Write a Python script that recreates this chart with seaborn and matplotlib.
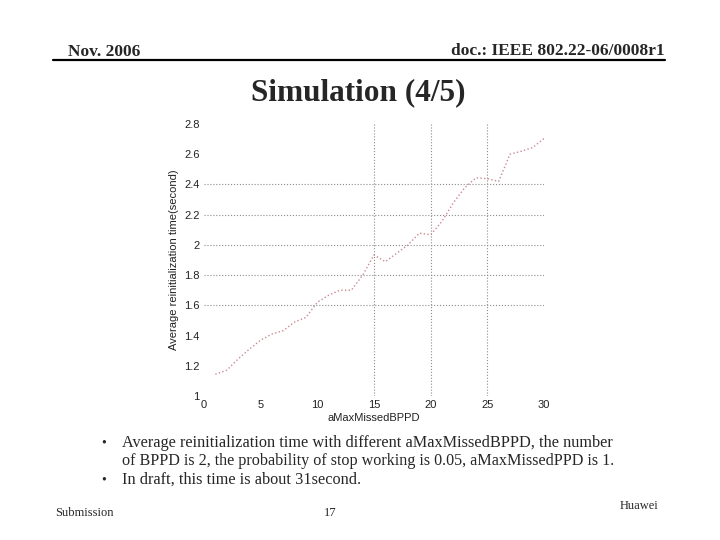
import matplotlib
matplotlib.use("Agg")
import matplotlib.pyplot as plt
import seaborn as sns
import pandas as pd

# ---- data ----
max_missed_bppd = list(range(1, 31))
avg_reinit_time = [1.144, 1.17, 1.244, 1.31, 1.37, 1.41, 1.433, 1.49, 1.52, 1.62,
                   1.667, 1.70, 1.70, 1.80, 1.933, 1.889, 1.944, 2.0, 2.078, 2.067,
                   2.156, 2.278, 2.378, 2.444, 2.438, 2.42, 2.6, 2.62, 2.644, 2.704]
x_ticks = [0, 5, 10, 15, 20, 25, 30]
y_ticks = [1, 1.2, 1.4, 1.6, 1.8, 2, 2.2, 2.4, 2.6, 2.8]
y_tick_labels = ["1", "1.2", "1.4", "1.6", "1.8", "2", "2.2", "2.4", "2.6", "2.8"]
h_grid = [1.6, 1.8, 2.0, 2.2, 2.4]
v_grid = [15, 20, 25]

header_left = "Nov. 2006"
header_right = "doc.: IEEE 802.22-06/0008r1"
slide_title = "Simulation (4/5)"
bullet_1 = ["Average reinitialization time with different aMaxMissedBPPD, the number",
            "of BPPD is 2, the probability of stop working is 0.05, aMaxMissedPPD is 1."]
bullet_2 = "In draft, this time is about 31second."
footer_left = "Submission"
footer_mid = "17"
footer_right = "Huawei"

df = pd.DataFrame({"x": max_missed_bppd, "y": avg_reinit_time})

sns.set_style("white")
plt.rcParams["font.family"] = ["Liberation Sans", "DejaVu Sans"]

W, H = 720, 540
fig = plt.figure(figsize=(7.2, 5.4), dpi=100)
fig.patch.set_facecolor("white")

ax = fig.add_axes([204 / W, 1 - 396 / H, 340 / W, 272 / H])
ax.set_facecolor("white")
sns.lineplot(data=df, x="x", y="y", ax=ax, color="#c98a92", linestyle=":",
             linewidth=1.0)
for yv in h_grid:
    ax.axhline(yv, color="#8c8c8c", linestyle=":", linewidth=0.8, zorder=0)
for xv in v_grid:
    ax.axvline(xv, color="#8c8c8c", linestyle=":", linewidth=0.8, zorder=0)

ax.set_xlim(0, 30)
ax.set_ylim(1, 2.8)
ax.set_xticks(x_ticks)
ax.set_yticks(y_ticks)
ax.set_yticklabels(y_tick_labels)
ax.tick_params(axis="both", length=0, labelsize=8, colors="#222222", pad=3)
for s in ax.spines.values():
    s.set_visible(False)
ax.set_xlabel("aMaxMissedBPPD", fontsize=8, color="#222222", labelpad=2)
ax.set_ylabel("Average reinitialization time(second)", fontsize=8,
              color="#222222", labelpad=4)

serif = ["Liberation Serif", "DejaVu Serif"]

# header
fig.text(140 / W, 1 - 56 / H, header_left, ha="right", va="baseline",
         fontsize=12.5, fontweight="bold", family=serif)
fig.text(665 / W, 1 - 55 / H, header_right, ha="right", va="baseline",
         fontsize=12.5, fontweight="bold", family=serif)
fig.add_artist(plt.Line2D([53 / W, 665 / W], [1 - 60 / H, 1 - 60 / H],
                          color="black", linewidth=1.6))

# title
fig.text(358 / W, 1 - 93 / H, slide_title, ha="center", va="center",
         fontsize=22.5, fontweight="bold", family=serif)

# bullets
fig.text(104 / W, 1 - 443 / H, "•", ha="center", va="center", fontsize=10,
         family=serif)
fig.text(122 / W, 1 - 443 / H, bullet_1[0], ha="left", va="center",
         fontsize=11.7, family=serif)
fig.text(122 / W, 1 - 461 / H, bullet_1[1], ha="left", va="center",
         fontsize=11.6, family=serif)
fig.text(104 / W, 1 - 480 / H, "•", ha="center", va="center", fontsize=10,
         family=serif)
fig.text(122 / W, 1 - 480 / H, bullet_2, ha="left", va="center",
         fontsize=11.7, family=serif)

# footer
fig.text(55 / W, 1 - 513 / H, footer_left, ha="left", va="center",
         fontsize=9, family=serif)
fig.text(330 / W, 1 - 513 / H, footer_mid, ha="center", va="center",
         fontsize=9, family=serif)
fig.text(658 / W, 1 - 506 / H, footer_right, ha="right", va="center",
         fontsize=9, family=serif)

fig.savefig("out.png", dpi=100, facecolor="white")
